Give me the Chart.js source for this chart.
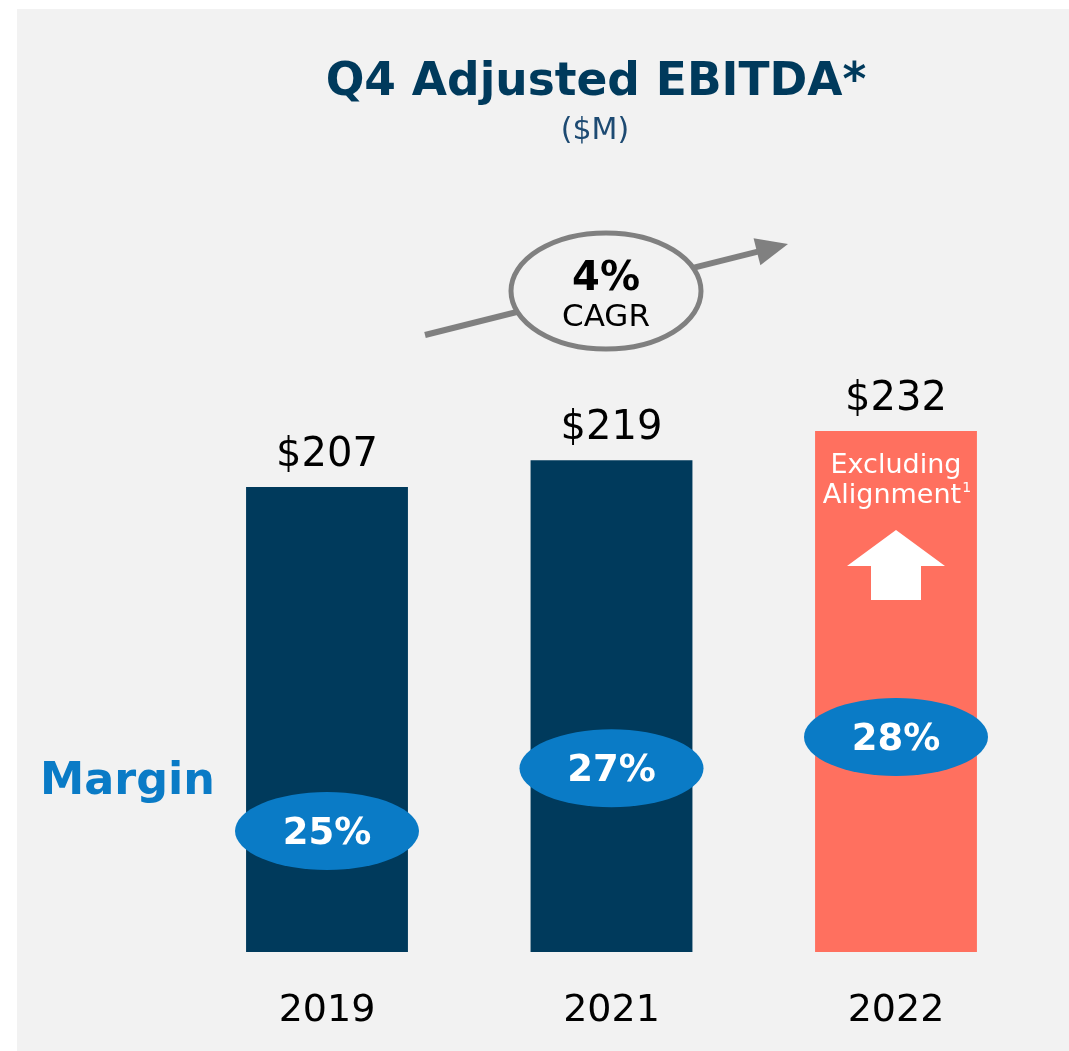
<!DOCTYPE html>
<html>
<head>
<meta charset="utf-8">
<script src="https://cdn.jsdelivr.net/npm/chart.js@4.4.1/dist/chart.umd.min.js"></script>
<style>
  html, body { margin: 0; padding: 0; background: #ffffff; }
  #wrap { width: 1069px; height: 1051px; }
</style>
</head>
<body>
<div id="wrap"><canvas id="c" width="1069" height="1051"></canvas></div>
<script>
// ---- data ----
const categories = ['2019', '2021', '2022'];
const ebitda = [207, 219, 232];
const valueLabels = ['$207', '$219', '$232'];
const margins = [25, 27, 28];
const marginLabels = ['25%', '27%', '28%'];
const cagrValue = '4%';
const cagrText = 'CAGR';
const titleText = 'Q4 Adjusted EBITDA*';
const subtitleText = '($M)';
const marginTitle = 'Margin';
const noteLines = ['Excluding', 'Alignment'];

// ---- styles ----
const FONT = '"DejaVu Sans", "Open Sans", sans-serif';
const NAVY = '#003a5c';
const CORAL = '#ff705f';
const BLUE = '#0a7bc6';
const BG = '#f2f2f2';
const GRAY = '#808080';
const barColors = [NAVY, NAVY, CORAL];

function fitFont(ctx, text, weight, targetW, maxSize) {
  ctx.font = weight + ' 100px ' + FONT;
  const w = ctx.measureText(text).width;
  return Math.min(maxSize, 100 * targetW / w);
}

const decor = {
  id: 'decor',
  beforeDraw(chart) {
    const ctx = chart.ctx;
    ctx.save();
    ctx.fillStyle = '#ffffff';
    ctx.fillRect(0, 0, chart.width, chart.height);
    ctx.fillStyle = BG;
    ctx.fillRect(17, 9, chart.width - 17, chart.height - 9);
    ctx.restore();
  },
  afterDatasetsDraw(chart) {
    const ctx = chart.ctx;
    const bars = chart.getDatasetMeta(0).data;
    const pts = chart.getDatasetMeta(1).data;
    ctx.save();
    ctx.textAlign = 'center';
    ctx.textBaseline = 'alphabetic';

    // Title
    let fs = fitFont(ctx, titleText, 'bold', 541, 50);
    ctx.font = 'bold ' + fs + 'px ' + FONT;
    ctx.fillStyle = NAVY;
    ctx.fillText(titleText, 596, 95);
    ctx.font = 'normal 30px ' + FONT;
    ctx.fillStyle = '#1d4a72';
    ctx.fillText(subtitleText, 595, 139);

    // Value labels and years
    bars.forEach((b, i) => {
      ctx.fillStyle = '#000000';
      ctx.font = 'normal 40px ' + FONT;
      ctx.fillText(valueLabels[i], b.x, b.y - 21);
      ctx.font = 'normal 38px ' + FONT;
      ctx.fillText(categories[i], b.x, 1021);
    });

    // Note inside last bar
    const lb = bars[bars.length - 1];
    ctx.fillStyle = '#ffffff';
    ctx.font = 'normal 27px ' + FONT;
    ctx.fillText(noteLines[0], lb.x, lb.y + 42);
    const w2 = ctx.measureText(noteLines[1]).width;
    ctx.textAlign = 'left';
    ctx.fillText(noteLines[1], lb.x - w2 / 2 - 4, lb.y + 72);
    ctx.font = 'normal 14px ' + FONT;
    ctx.fillText('1', lb.x + w2 / 2 - 3, lb.y + 61);
    ctx.textAlign = 'center';
    // white up arrow
    ctx.beginPath();
    ctx.moveTo(lb.x, lb.y + 99);
    ctx.lineTo(lb.x + 49, lb.y + 135);
    ctx.lineTo(lb.x + 25, lb.y + 135);
    ctx.lineTo(lb.x + 25, lb.y + 169);
    ctx.lineTo(lb.x - 25, lb.y + 169);
    ctx.lineTo(lb.x - 25, lb.y + 135);
    ctx.lineTo(lb.x - 49, lb.y + 135);
    ctx.closePath();
    ctx.fill();

    // Margin ellipses
    pts.forEach((p, i) => {
      ctx.beginPath();
      ctx.ellipse(p.x, p.y, 92, 39, 0, 0, Math.PI * 2);
      ctx.fillStyle = BLUE;
      ctx.fill();
      ctx.fillStyle = '#ffffff';
      ctx.font = 'bold 37px ' + FONT;
      ctx.fillText(marginLabels[i], p.x, p.y + 13);
    });

    // Margin label
    fs = fitFont(ctx, marginTitle, 'bold', 175, 46);
    ctx.font = 'bold ' + fs + 'px ' + FONT;
    ctx.fillStyle = BLUE;
    ctx.textAlign = 'left';
    ctx.fillText(marginTitle, 40, 794);
    ctx.textAlign = 'center';

    // CAGR arrow
    const x0 = 425, y0 = 335, x1 = 788, y1 = 244;
    const ang = Math.atan2(y1 - y0, x1 - x0);
    ctx.strokeStyle = GRAY;
    ctx.lineWidth = 6;
    ctx.beginPath();
    ctx.moveTo(x0, y0);
    ctx.lineTo(x1 - 28 * Math.cos(ang), y1 - 28 * Math.sin(ang));
    ctx.stroke();
    ctx.fillStyle = GRAY;
    ctx.beginPath();
    ctx.moveTo(x1, y1);
    ctx.lineTo(x1 - 32 * Math.cos(ang) + 14 * Math.sin(ang), y1 - 32 * Math.sin(ang) - 14 * Math.cos(ang));
    ctx.lineTo(x1 - 32 * Math.cos(ang) - 14 * Math.sin(ang), y1 - 32 * Math.sin(ang) + 14 * Math.cos(ang));
    ctx.closePath();
    ctx.fill();
    ctx.beginPath();
    ctx.ellipse(606, 291, 95, 58, 0, 0, Math.PI * 2);
    ctx.fillStyle = BG;
    ctx.fill();
    ctx.lineWidth = 5;
    ctx.stroke();
    ctx.fillStyle = '#000000';
    ctx.font = 'bold 40px ' + FONT;
    ctx.fillText(cagrValue, 606, 290);
    ctx.font = 'normal 31px ' + FONT;
    ctx.fillText(cagrText, 606, 326);

    ctx.restore();
  }
};

new Chart(document.getElementById('c'), {
  data: {
    labels: categories,
    datasets: [
      {
        type: 'bar',
        data: ebitda,
        backgroundColor: barColors,
        borderWidth: 0,
        barPercentage: 0.569,
        categoryPercentage: 1,
        yAxisID: 'y'
      },
      {
        type: 'line',
        data: margins,
        showLine: false,
        pointRadius: 0,
        yAxisID: 'y2'
      }
    ]
  },
  options: {
    responsive: false,
    animation: false,
    events: [],
    layout: { padding: { left: 184.75, right: 30.75, top: 53.6, bottom: 99 } },
    plugins: { legend: { display: false }, tooltip: { enabled: false }, title: { display: false } },
    scales: {
      x: { display: false, offset: true },
      y: { display: false, min: 0, max: 400 },
      y2: { display: false, min: 21.14, max: 49.8 }
    }
  },
  plugins: [decor]
});
</script>
</body>
</html>
